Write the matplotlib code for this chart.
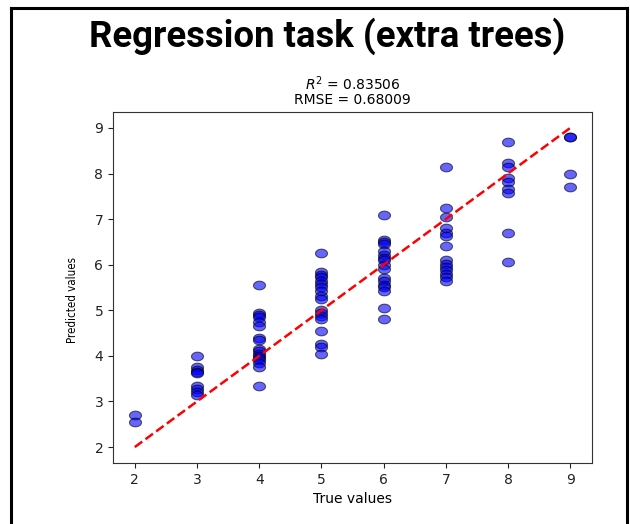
import numpy as np
import matplotlib
matplotlib.use("Agg")
import matplotlib.pyplot as plt
from matplotlib.path import Path
from matplotlib.lines import Line2D

# true target classes and the predicted values
true_levels = [2, 3, 4, 5, 6, 7, 8, 9]
pred_2 = [2.7, 2.55]
pred_3 = [4.0, 3.75, 3.7, 3.65, 3.62, 3.35, 3.28, 3.2, 3.15]
pred_4 = [5.55, 4.95, 4.9, 4.85, 4.75, 4.65, 4.4, 4.35, 4.15, 4.1, 4.05,
          4.0, 3.95, 3.9, 3.85, 3.75, 3.35]
pred_5 = [6.25, 5.85, 5.78, 5.72, 5.65, 5.57, 5.5, 5.42, 5.32, 5.25, 5.0,
          4.95, 4.88, 4.8, 4.55, 4.25, 4.2, 4.05]
pred_6 = [7.1, 6.55, 6.5, 6.45, 6.3, 6.22, 6.15, 6.1, 6.0, 5.9, 5.7, 5.65,
          5.55, 5.5, 5.42, 5.05, 4.8]
pred_7 = [8.15, 7.25, 7.05, 6.8, 6.7, 6.62, 6.4, 6.1, 6.02, 5.95, 5.88,
          5.8, 5.72, 5.65]
pred_8 = [8.7, 8.22, 8.15, 7.9, 7.82, 7.65, 7.58, 6.7, 6.05]
pred_9 = [8.8, 8.8, 8.0, 7.7]

r2_text = "0.83506"
rmse_text = "0.68009"

groups = [pred_2, pred_3, pred_4, pred_5, pred_6, pred_7, pred_8, pred_9]
y_true = np.concatenate([[t] * len(g) for t, g in zip(true_levels, groups)])
y_pred = np.concatenate(groups)

# the source picture was squashed vertically, so markers look like ellipses
theta = np.linspace(0, 2 * np.pi, 60)
ellipse = Path(np.column_stack([np.cos(theta), 0.72 * np.sin(theta)]), closed=True)

fig = plt.figure(figsize=(6.3, 5.24), dpi=100)
ax = fig.add_axes([0.1794, 0.1164, 0.7603, 0.6699])

ax.scatter(y_true, y_pred, s=75, marker=ellipse, color="blue", alpha=0.6,
           edgecolors="k", linewidths=0.8)
lo, hi = y_true.min(), y_true.max()
ax.plot([lo, hi], [lo, hi], "r--", lw=1.8)

ax.set_title(r"$R^2$ = " + r2_text + "\nRMSE = " + rmse_text,
             fontsize=10, linespacing=1.0, pad=6)
ax.set_xlabel("True values", fontsize=10)
ax.set_ylabel("Predicted values", fontsize=8.3, fontstretch="condensed")
ax.yaxis.set_label_coords(-0.07, 0.465)
ax.tick_params(labelsize=10, colors="#222222", length=3.5)
for sp in ax.spines.values():
    sp.set_color("#333333")

fig.text(0.52, 0.93, "Regression task (extra trees)", ha="center", va="center",
         fontsize=26.3, fontweight="bold", family="Roboto")

# frame of the slide box
for xs, ys in [([0.018, 0.018], [0, 0.985]), ([0.018, 0.996], [0.985, 0.985]),
               ([0.996, 0.996], [0, 0.985])]:
    fig.add_artist(Line2D(xs, ys, transform=fig.transFigure, color="black", lw=2.2))

fig.savefig("out.png", dpi=100)
